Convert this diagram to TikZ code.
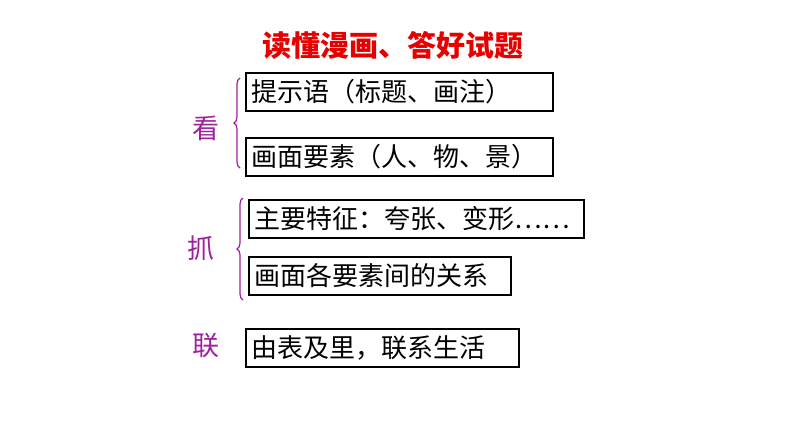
\documentclass[tikz,border=0pt]{standalone}
\usepackage{fontspec}
\setmainfont{Noto Sans CJK SC}
\usetikzlibrary{decorations.pathreplacing}
\definecolor{pur}{RGB}{160,30,160}
\definecolor{red1}{RGB}{230,0,0}
\tikzset{bx/.style={draw=black,line width=1.6pt,anchor=west,inner sep=0pt,font=\fontsize{26pt}{28pt}\selectfont},
lab/.style={text=pur,font=\fontsize{27pt}{29pt}\selectfont},
br/.style={draw=pur,line width=1.2pt,decorate,decoration={brace,mirror,amplitude=6pt}}}
\begin{document}
\begin{tikzpicture}[x=1pt,y=-1pt]
\useasboundingbox (0,0) rectangle (794,447);
\node[font=\bfseries\fontsize{29pt}{31pt}\selectfont,text=red1] (t) at (393,45) {读懂漫画、答好试题};
\node[bx,minimum width=307pt,minimum height=38pt,text width=303pt,align=left] (b1) at (245,92) {\hspace*{4pt}提示语（标题、画注）};
\node[bx,minimum width=307pt,minimum height=38pt,text width=303pt,align=left] (b2) at (245,157) {\hspace*{4pt}画面要素（人、物、景）};
\node[bx,minimum width=335pt,minimum height=38pt,text width=331pt,align=left] (b3) at (248,219) {\hspace*{4pt}主要特征：夸张、变形……};
\node[bx,minimum width=262pt,minimum height=38pt,text width=258pt,align=left] (b4) at (248,276) {\hspace*{4pt}画面各要素间的关系};
\node[bx,minimum width=273pt,minimum height=38pt,text width=269pt,align=left] (b5) at (245,348) {\hspace*{4pt}由表及里，联系生活};
\node[lab] (k) at (206,128) {看};
\node[lab] (z) at (201,248) {抓};
\node[lab] (l) at (206,346) {联};
\coordinate (a1) at (240,78); \coordinate (a2) at (240,168);
\coordinate (c1) at (243,198); \coordinate (c2) at (243,300);
\draw[br] (a1) -- (a2);
\draw[br] (c1) -- (c2);
\end{tikzpicture}
\end{document}
